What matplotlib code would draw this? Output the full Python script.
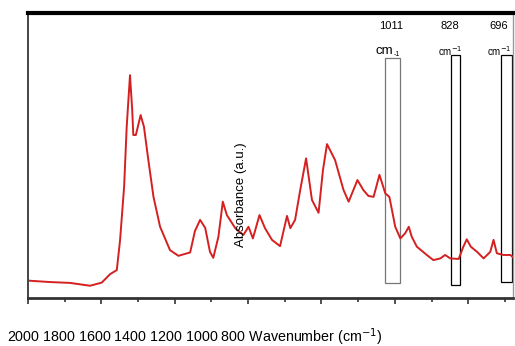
import matplotlib
matplotlib.use('Agg')
import matplotlib.pyplot as plt
from matplotlib.patches import Rectangle

# spectrum (wavenumber cm-1, absorbance a.u.)
wavenumber = [2000, 1940, 1885, 1831, 1799, 1776, 1758, 1749, 1738, 1731,
              1722, 1716, 1713, 1706, 1693, 1684, 1672, 1658, 1640, 1613,
              1590, 1558, 1545, 1531, 1517, 1504, 1495, 1481, 1469, 1458,
              1435, 1413, 1399, 1387, 1369, 1354, 1335, 1313, 1294, 1285,
              1272, 1258, 1242, 1226, 1208, 1196, 1185, 1163, 1140, 1126,
              1102, 1086, 1072, 1058, 1042, 1026, 1015, 999, 985, 972,
              962, 954, 940, 913, 895, 876, 863, 849, 826, 814,
              804, 793, 776, 758, 740, 731, 722, 704, 685, 678]
absorbance = [0.061, 0.056, 0.053, 0.043, 0.054, 0.084, 0.098, 0.204, 0.391, 0.601,
              0.782, 0.660, 0.572, 0.572, 0.642, 0.601, 0.484, 0.355, 0.250, 0.168,
              0.148, 0.160, 0.235, 0.274, 0.246, 0.162, 0.141, 0.215, 0.338, 0.291,
              0.245, 0.221, 0.250, 0.209, 0.291, 0.245, 0.204, 0.182, 0.288, 0.245,
              0.274, 0.379, 0.490, 0.344, 0.299, 0.449, 0.540, 0.484, 0.379, 0.338,
              0.414, 0.379, 0.358, 0.355, 0.432, 0.367, 0.355, 0.250, 0.209, 0.227,
              0.250, 0.215, 0.180, 0.151, 0.133, 0.139, 0.151, 0.139, 0.137, 0.178,
              0.206, 0.180, 0.162, 0.139, 0.162, 0.204, 0.157, 0.151, 0.151, 0.143]

major_ticks = [2000, 1800, 1600, 1400, 1200, 1000, 800]
minor_ticks = [1900, 1700, 1500, 1300, 1100, 900, 700]

# marked bands: label, left edge, right edge, bottom, top
band_labels = ['1011', '828', '696']
band_left = [1026, 848, 711]
band_right = [986, 822, 681]
band_bottom = [0.053, 0.046, 0.056]
band_top = [0.842, 0.853, 0.853]
band_text_x = [1010, 850, 716]

fig = plt.figure(figsize=(5.15, 3.46), dpi=100)
ax = fig.add_axes([0.0544, 0.1387, 0.9417, 0.8237])

ax.plot(wavenumber, absorbance, color='#d42020', lw=1.4)
ax.set_xlim(2000, 678)
ax.set_ylim(0, 1)

for i in range(len(band_labels)):
    ec = '#777777' if i == 0 else 'black'
    ax.add_patch(Rectangle((band_right[i], band_bottom[i]),
                           band_left[i] - band_right[i],
                           band_top[i] - band_bottom[i],
                           fill=False, ec=ec, lw=0.9))
    ax.text(band_text_x[i], 0.955, band_labels[i], ha='center', va='center',
            fontsize=8, family='Liberation Sans')
    if i == 0:
        ax.text(1004, 0.865, 'cm', ha='right', va='center',
                fontsize=9.5, family='Liberation Sans')
        ax.text(1002, 0.855, '-1', ha='left', va='center',
                fontsize=5, family='Liberation Sans')
    else:
        ax.text(band_text_x[i], 0.865, 'cm$^{-1}$', ha='center', va='center',
                fontsize=7, family='Liberation Sans')

ax.set_xticks(major_ticks)
ax.set_xticks(minor_ticks, minor=True)
ax.set_xticklabels([])
ax.set_yticks([])
ax.tick_params(axis='x', which='major', length=4, width=1.2, color='#333333')
ax.tick_params(axis='x', which='minor', length=3, width=1.2, color='#333333')

ax.spines['top'].set_linewidth(3)
ax.spines['top'].set_color('black')
ax.spines['left'].set_linewidth(1.4)
ax.spines['left'].set_color('#444444')
ax.spines['bottom'].set_linewidth(2)
ax.spines['bottom'].set_color('#333333')
ax.spines['right'].set_linewidth(1)
ax.spines['right'].set_color('#999999')

# axis label drawn inside the plot, as in the source
ax.text(0.44, 0.361, 'Absorbance (a.u.)', transform=ax.transAxes, rotation=90,
        ha='center', va='center', fontsize=9.5, family='Liberation Sans')

tick_text = ' '.join(str(t) for t in major_ticks)
fig.text(7 / 515, 0.025, tick_text + ' Wavenumber (cm$^{-1}$)', ha='left', va='center',
         fontsize=10.3, family='Liberation Sans')

fig.savefig('out.png', dpi=100)
